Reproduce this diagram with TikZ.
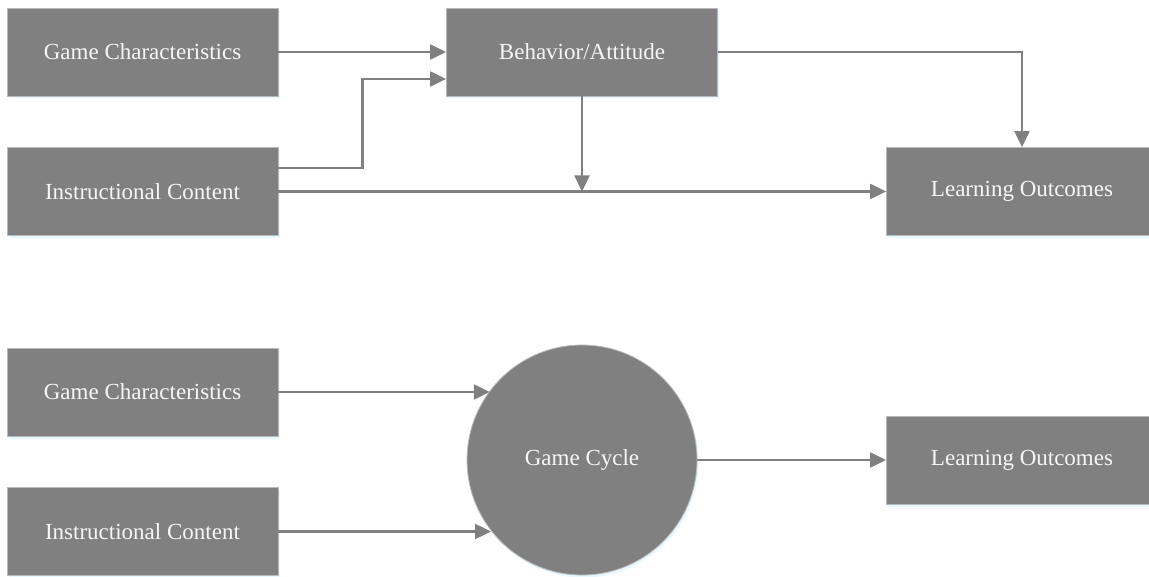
\documentclass[tikz,border=0pt]{standalone}
\usepackage{fontspec}
\setmainfont{Liberation Serif}
\usetikzlibrary{arrows.meta,shadows}

\tikzset{
  box/.style={draw=gray!55, line width=0.8pt, fill=gray, text=white!93!gray,
    minimum width=\BoxW, minimum height=\BoxH, inner sep=0pt,
    drop shadow={shadow xshift=1.5pt, shadow yshift=-2.5pt, fill=cyan!12!white, opacity=.8}},
  ring/.style={box, circle, minimum size=230pt},
  arr/.style={draw=gray, line width=2.2pt, -{Triangle[length=16pt,width=15pt]}}
}

\begin{document}
\begin{tikzpicture}[x=1pt, y=-1pt]

  \fontsize{23}{27}\selectfont

  \newcommand\BoxW{271pt}
  \newcommand\BoxH{88pt}

  \useasboundingbox (0,0) rectangle (1149,577);

  % upper model
  \node[box] (gca) at (142.5, 52) {Game Characteristics};
  \node[box] (ica) at (142.5, 191.5) {Instructional Content};
  \node[box] (ba)  at (582, 52) {Behavior/Attitude};
  \node[box] (loa) at (1022, 191.5) {Learning Outcomes};

  \draw[arr] (gca.east) -- (ba.west); %% GC->BA
  \draw[arr] ([yshift=23.5pt]ica.east) -- ++(84,0) |- ([yshift=-27pt]ba.west); %% IC->BA
  \draw[arr] (ica.east) -- (loa.west); %% IC->LO
  \draw[arr] (ba.south) -- (ba.south |- ica.east); %% BA->(IC->LO)
  \draw[arr] (ba.east) -| (loa.north); %% BA->LO

  % lower model
  \node[box] (gcb) at (142.5, 392) {Game Characteristics};
  \node[box] (icb) at (142.5, 531.5) {Instructional Content};
  \node[ring] (cyc) at (582, 460) {Game Cycle};
  \node[box] (lob) at (1022, 460) {Learning Outcomes};

  \draw[arr] (gcb.east) -- (gcb.east -| cyc.143.7); %% GC->cycle
  \draw[arr] (icb.east) -- (icb.east -| cyc.218.4); %% IC->cycle
  \draw[arr] (cyc.east) -- (lob.west); %% cycle->LO

\end{tikzpicture}
\end{document}
